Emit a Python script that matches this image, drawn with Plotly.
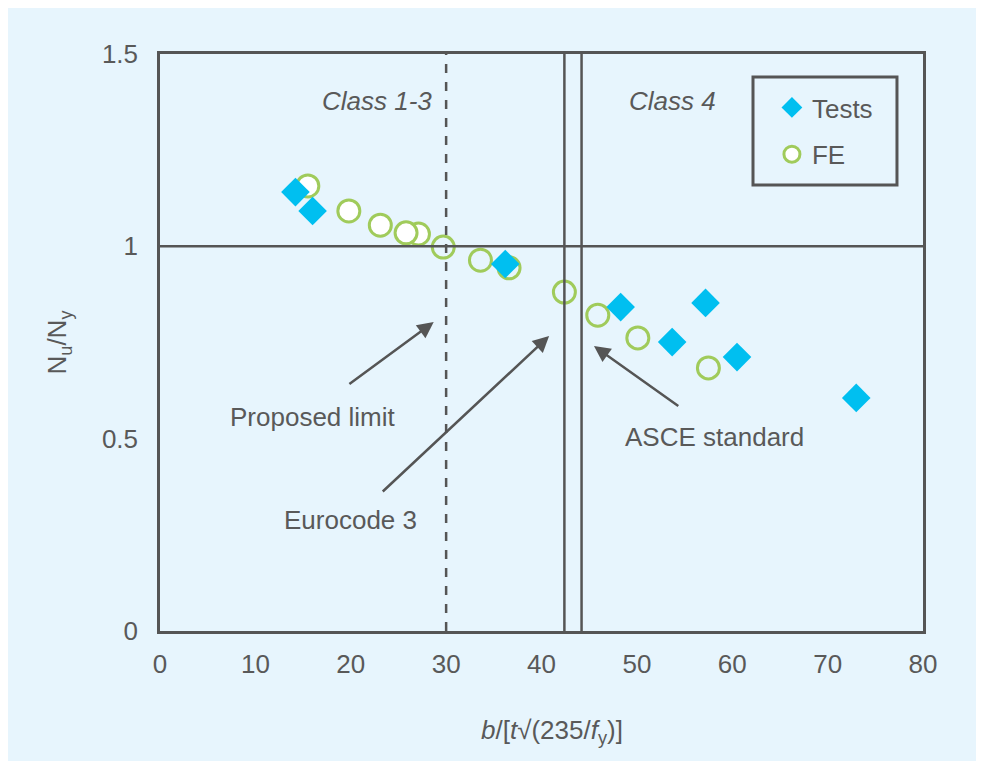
import plotly.graph_objects as go

# Data
tests_x = [14.2, 16.0, 36.2, 48.3, 57.2, 53.7, 60.5, 73.0]
tests_y = [1.141, 1.092, 0.954, 0.842, 0.853, 0.751, 0.712, 0.606]

fe_x = [15.5, 19.8, 23.1, 27.1, 25.8, 29.7, 33.6, 36.6, 42.4, 45.9, 50.1, 57.5]
fe_y = [1.157, 1.092, 1.055, 1.032, 1.035, 0.998, 0.964, 0.944, 0.881, 0.821, 0.762, 0.684]
fe_fill = ["white", "white", "white", "white", "white",
           "rgba(0,0,0,0)", "rgba(0,0,0,0)", "rgba(0,0,0,0)", "rgba(0,0,0,0)",
           "rgba(0,0,0,0)", "rgba(0,0,0,0)", "rgba(0,0,0,0)"]

x_ticks = [0, 10, 20, 30, 40, 50, 60, 70, 80]
y_ticks = [0, 0.5, 1, 1.5]

proposed_limit = 30
eurocode_limit = 42.4
asce_limit = 44.2
unity = 1.0

BG = "#E7F5FD"
INK = "#555555"
TXT = "#595959"
FONT = "Liberation Sans, Arial, sans-serif"
FS = 26

fig = go.Figure()

fig.add_trace(go.Scatter(
    x=fe_x, y=fe_y, mode="markers", name="FE", legendrank=2, legendgroup="fe",
    marker=dict(symbol="circle", size=22, color=fe_fill,
                line=dict(color="#A0CB5B", width=3)),
))
fig.add_trace(go.Scatter(
    x=tests_x, y=tests_y, mode="markers", name="Tests", legendrank=1, legendgroup="tests",
    marker=dict(symbol="diamond", size=22, color="#00BFF0",
                line=dict(width=0)),
))

shapes = [
    dict(type="line", xref="x", yref="y", x0=proposed_limit, x1=proposed_limit,
         y0=0, y1=1.5, line=dict(color=INK, width=2.5, dash="dash")),
    dict(type="line", xref="x", yref="y", x0=eurocode_limit, x1=eurocode_limit,
         y0=0, y1=1.5, line=dict(color=INK, width=2.5)),
    dict(type="line", xref="x", yref="y", x0=asce_limit, x1=asce_limit,
         y0=0, y1=1.5, line=dict(color=INK, width=2.5)),
    dict(type="line", xref="x", yref="y", x0=0, x1=80,
         y0=unity, y1=unity, line=dict(color=INK, width=2.5)),
    # legend frame
    dict(type="rect", xref="paper", yref="paper", x0=0.7772, x1=0.9659,
         y0=0.773, y1=0.960, line=dict(color=INK, width=3), fillcolor=BG),
]

arrow = dict(showarrow=True, arrowhead=2, arrowsize=1.3, arrowwidth=2.5,
             arrowcolor=INK, axref="x", ayref="y", xref="x", yref="y", text="")
tf = dict(size=FS, color=TXT, family=FONT)
annotations = [
    dict(x=28.7, y=0.803, ax=19.7, ay=0.639, **arrow),
    dict(x=40.8, y=0.767, ax=23.2, ay=0.359, **arrow),
    dict(x=45.5, y=0.741, ax=54.5, ay=0.582, **arrow),
    dict(x=16.0, y=0.556, text="Proposed limit", showarrow=False, font=tf),
    dict(x=20.0, y=0.289, text="Eurocode 3", showarrow=False, font=tf),
    dict(x=58.1, y=0.504, text="ASCE standard", showarrow=False, font=tf),
    dict(x=22.75, y=1.378, text="<i>Class 1-3</i>", showarrow=False, font=tf),
    dict(x=53.7, y=1.378, text="<i>Class 4</i>", showarrow=False, font=tf),
    dict(x=0.514, y=-0.175, xref="paper", yref="paper", xanchor="center", yanchor="middle",
         text="<i>b</i>/[<i>t</i>√(235/<i>f</i><sub>y</sub>)]", showarrow=False, font=tf),
]

fig.update_layout(
    width=984, height=761,
    margin=dict(l=152, r=69, t=46, b=138),
    paper_bgcolor=BG, plot_bgcolor=BG,
    font=dict(family=FONT, size=FS, color=TXT),
    shapes=shapes, annotations=annotations,
    showlegend=True,
    legend=dict(x=0.802, y=0.948, xanchor="left", yanchor="top",
                bgcolor="rgba(0,0,0,0)", borderwidth=0,
                font=tf, tracegroupgap=10, itemsizing="trace"),
    xaxis=dict(range=[0, 80], tickvals=x_ticks, ticktext=[str(v) for v in x_ticks],
               showgrid=False, zeroline=False, showline=True, mirror=True,
               linecolor=INK, linewidth=2.5, ticks="", ticklabelstandoff=8,
               tickfont=tf),
    yaxis=dict(range=[0, 1.5], tickvals=y_ticks, ticktext=["0", "0.5", "1", "1.5"],
               showgrid=False, zeroline=False, showline=True, mirror=True,
               linecolor=INK, linewidth=2.5, ticks="", ticklabelstandoff=14,
               tickfont=tf,
               title=dict(text="N<sub>u</sub>/N<sub>y</sub>", standoff=28, font=tf)),
)

fig.write_html("out.html")
